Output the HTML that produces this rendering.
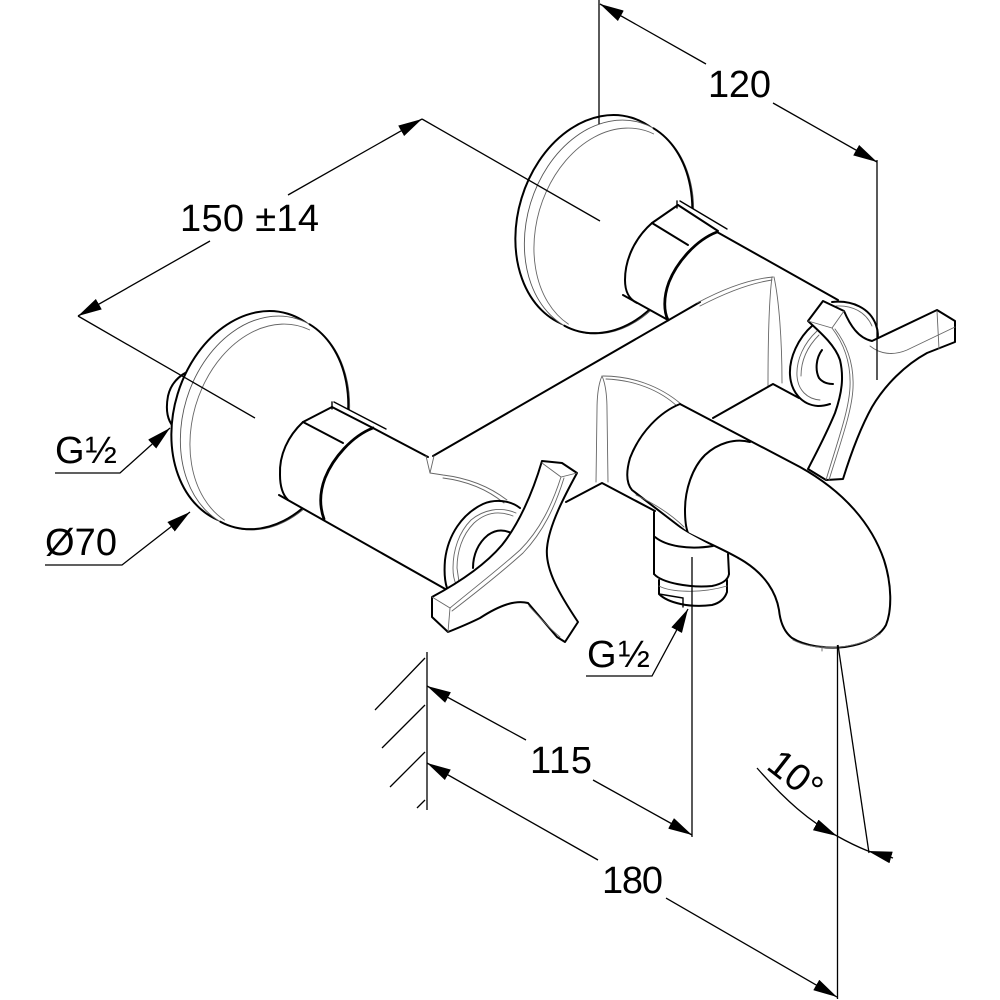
<!DOCTYPE html>
<html><head><meta charset="utf-8"><style>
html,body{margin:0;padding:0;background:#fff;}
svg{display:block;}
text{font-family:"Liberation Sans",Arial,sans-serif;font-size:38px;fill:#000;}
.k{fill:none;stroke:#000;stroke-width:2;stroke-linecap:round;stroke-linejoin:round;}
.kk{fill:none;stroke:#000;stroke-width:2.8;stroke-linecap:round;stroke-linejoin:round;}
.m{fill:none;stroke:#000;stroke-width:1.4;stroke-linecap:round;}
.t{fill:none;stroke:#666;stroke-width:0.9;stroke-linecap:round;}
.d{fill:none;stroke:#000;stroke-width:1.3;}
.w{fill:#fff;stroke:none;}
.wk{fill:#fff;stroke:#000;stroke-width:2;stroke-linejoin:round;}
</style></head><body>
<svg width="1000" height="1000" viewBox="0 0 1000 1000" xmlns="http://www.w3.org/2000/svg">
<defs>
<marker id="ar" viewBox="0 0 24 12" refX="24" refY="6" markerWidth="24" markerHeight="12" markerUnits="userSpaceOnUse" orient="auto-start-reverse"><path d="M0,0 L24,6 L0,12 Z" fill="#000"/></marker>
<g id="plate">
 <ellipse cx="256" cy="418" rx="82" ry="109" transform="rotate(17 256 418)" fill="#fff" stroke="#000" stroke-width="2"/>
 <ellipse cx="265" cy="423" rx="82" ry="109" transform="rotate(17 265 423)" fill="#fff" stroke="#555" stroke-width="0.9"/>
 <path d="M309.6,324.3 A82 109 17 0 1 220.4,521.7" class="k"/>
 <path d="M309.6,329.9 A78 105 17 0 0 224.4,520.1" class="t"/>
</g>
</defs>

<!-- left stub -->
<path class="k" d="M206,369 C190,366 172,378 168,396 C165,412 168,424 178,431"/>

<!-- plates -->
<use href="#plate"/>
<use href="#plate" transform="translate(344,-196)"/>

<!-- right nut / body -->
<path class="w" d="M652,223 L680,201 L726,229 L838,300 L878,330 L830,405 L668,320 L623,295 C624,265 635,237 652,223 Z"/>
<path class="k" d="M652,223 C636,237 625,258 625,280 C625,292 629,299 637,303"/>
<path class="k" d="M623,295 L668,320"/>
<path class="k" d="M652,223 L688,245"/>
<path class="k" d="M652,223 L678,205"/>
<path class="m" d="M677,201 L677,208"/>
<path class="k" d="M678,205 L718,231"/>
<path class="m" d="M680,201 L727,229"/>
<path class="kk" d="M717,232 C696,240 677,262 669,282 C663,298 664,312 668,320"/>
<path class="k" d="M717,232 L838,300"/>

<!-- bar -->
<path class="k" d="M433,456 L700,302"/>
<path class="t" d="M697,303 C725,288 750,279 773,277"/>
<path class="t" d="M700,306 C727,292 752,283 772,280"/>
<path class="t" d="M772,277 C769,300 768,340 768,386"/>
<path class="t" d="M774,277 C779,300 782,340 782,383"/>
<path class="k" d="M713,418 L773,384 L799,398"/>
<path class="t" d="M602,376 C598,385 597,398 597,410 L596,482"/>
<path class="t" d="M602,376 C606,385 607,398 607,410 L608,482"/>
<path class="t" d="M603,376 C632,376 660,386 681,404"/>
<path class="t" d="M606,379 C634,380 660,390 678,407"/>
<path class="k" d="M566,502 L602,483 L655,511"/>

<!-- left nut / body -->
<path class="w" d="M303,422 L333,402 L386,429 L430,456 L430,473 L507,500 L520,508 L447,590 L279,495 C279,470 288,436 303,422 Z"/>
<path class="k" d="M303,422 C288,436 279,455 280,475 C280,487 283,495 288,500"/>
<path class="k" d="M279,495 L447,590"/>
<path class="k" d="M303,422 L343,443"/>
<path class="k" d="M303,422 L332,407"/>
<path class="m" d="M332,402 L332,409"/>
<path class="k" d="M332,407 L373,428"/>
<path class="m" d="M334,402 L386,429"/>
<path class="kk" d="M373,428 C352,436 333,458 325,478 C319,494 320,508 324,519"/>
<path class="k" d="M373,428 L428,457"/>
<path class="t" d="M426,456 L430,473 L434,456"/>
<path class="t" d="M430,473 L443,475 C468,478 490,487 507,500"/>
<path class="t" d="M443,478 C467,481 488,490 504,503"/>

<!-- left ring -->
<path class="k" d="M520,508 C510,500 495,499 483,504 C462,514 448,535 445,560 C444,572 445,582 447,588"/>
<path class="t" d="M516,513 C500,506 483,510 471,520 C459,532 453,550 453,568 C453,575 454,580 456,584"/>
<path class="t" d="M513,516 C498,510 485,513 474,523 C462,535 457,552 457,568 L459,582"/>
<path class="k" d="M473,568 C473,555 478,543 488,535 C495,530 503,529 511,533"/>

<!-- left handle -->
<path class="wk" d="M542,461 L562,463 L577,473 C565,495 549,525 547,548 C545,570 560,595 578,622 L565,642 L557,637 L528,603 C515,600 500,605 480,618 C468,624 458,628 448,632 L432,617 L432,597 C460,582 485,565 502,545 C518,525 532,495 542,461 Z"/>
<path class="t" d="M542,463 L561,477 L577,473"/>
<path class="t" d="M561,477 C552,505 540,530 520,550 C500,568 478,585 450,608"/>
<path class="t" d="M564,478 C555,507 543,532 523,553 C503,571 482,588 452,611"/>
<path class="t" d="M432,597 L450,608 L448,632"/>
<path class="t" d="M529,606 C538,616 548,627 560,637"/>

<!-- spout -->
<path class="wk" d="M680,404 L800,467 C845,492 872,525 884,560 C892,585 892,610 886,625 C880,636 866,644 845,647 C825,649 805,646 792,638 C783,631 780,620 779,610 C776,592 765,575 745,562 C728,551 705,542 688,533 L632,490 C626,483 626,472 630,458 C640,432 660,412 680,404 Z"/>
<path class="k" d="M750,442 C735,438 718,443 705,455 C692,468 685,490 685,510 C685,520 686,528 688,533"/>
<path class="t" d="M636,495 C655,504 672,515 684,527"/>
<path class="t" d="M793,640 C812,650 850,652 880,634"/>
<path class="t" d="M822,646 L822,651"/>

<!-- fitting -->
<path class="w" d="M654,512 L688,533 L730,556 L729,574 L727,595 C720,605 690,610 659,596 L654,574 Z"/>
<path class="k" d="M654,512 L654,574"/>
<path class="k" d="M655,537 C666,546 688,550 713,546"/>
<path class="k" d="M728,554 L729,574"/>
<path class="k" d="M654,574 C662,583 690,588 712,586 C722,584 728,580 729,574"/>
<path class="k" d="M659,580 L659,594 C668,603 690,608 712,605 C720,603 725,598 727,592 L727,580"/>
<path class="t" d="M659,586 C670,592 700,594 727,586"/>
<path class="m" d="M659,594 L683,598 L683,607"/>

<!-- right ring -->
<path class="k" d="M813,325 C798,338 789,358 790,375 C791,392 802,405 818,406 C823,406 827,405 830,404"/>
<path class="t" d="M817,331 C804,343 796,360 797,376 C798,390 807,399 820,400"/>
<path class="t" d="M819,335 C807,347 801,361 801,376"/>
<path class="k" d="M822,350 C816,358 815,370 819,378 C823,383 828,384 833,384"/>
<path class="k" d="M832,302 C852,300 870,308 876,325 C879,333 878,340 877,345"/>
<path class="t" d="M836,306 C852,305 866,312 872,326"/>

<!-- right handle -->
<path class="wk" d="M808,321 L823,301 L844,311 C850,325 858,338 872,341 L937,310 L955,321 L955,342 L927,353 C905,365 885,385 872,407 C862,425 852,450 843,479 L826,480 L808,469 C815,455 825,437 835,413 C842,393 844,377 840,360 C835,345 820,332 808,321 Z"/>
<path class="t" d="M808,321 L832,328 L844,311"/>
<path class="t" d="M832,328 C845,345 851,365 850,387 C849,410 838,440 826,480"/>
<path class="t" d="M835,329 C848,346 854,366 853,388 C852,411 841,441 829,480"/>
<path class="t" d="M870,346 C880,354 893,356 907,350 L955,327"/>
<path class="t" d="M937,311 L939,349"/>

<!-- dimension: 120 -->
<path class="d" d="M599,0 L599,124"/>
<path class="d" d="M877,160 L877,380"/>
<path class="d" d="M600,4 L706,64" marker-start="url(#ar)"/>
<path class="d" d="M877,162 L773,103" marker-start="url(#ar)"/>
<text x="708" y="97" textLength="63">120</text>

<!-- dimension: 150 ±14 -->
<path class="d" d="M78,316 L210,241" marker-start="url(#ar)"/>
<path class="d" d="M422,119 L288,195" marker-start="url(#ar)"/>
<path class="d" d="M78,316 L255,418"/>
<path class="d" d="M422,119 L600,221"/>
<text x="180" y="231" textLength="139">150 ±14</text>

<!-- G1/2 top, Ø70 -->
<path class="d" d="M55,473 L120,473 L170,428" marker-end="url(#ar)"/>
<text x="55" y="463" textLength="62">G½</text>
<path class="d" d="M45,565 L122,565 L190,512" marker-end="url(#ar)"/>
<text x="45" y="555" textLength="72">Ø70</text>

<!-- G1/2 bottom -->
<path class="d" d="M586,676 L652,676 L688,609" marker-end="url(#ar)"/>
<text x="587" y="667" textLength="63">G½</text>
<path class="d" d="M692,557 L692,837"/>

<!-- wall -->
<path class="d" d="M427,652 L427,810"/>
<path class="d" d="M425,658 L375,710 M425,705 L382,748 M425,752 L390,787 M425,800 L417,808"/>

<!-- 115 -->
<path class="d" d="M427,686 L526,740" marker-start="url(#ar)"/>
<path class="d" d="M692,835 L593,780" marker-start="url(#ar)"/>
<text x="530" y="773" textLength="62">115</text>

<!-- 180 -->
<path class="d" d="M837.5,645 L837.5,999"/>
<path class="d" d="M427,763 L598,860" marker-start="url(#ar)"/>
<path class="d" d="M837,997 L666,898" marker-start="url(#ar)"/>
<text x="602" y="893" textLength="61">180</text>

<!-- 10° -->
<path class="d" d="M838,645 L869,853"/>
<path class="d" d="M757,768 C785,800 810,822 837,836" marker-end="url(#ar)"/>
<path class="d" d="M837,836 Q853,845 868,851"/>
<path class="d" d="M868,851 L893,858" marker-start="url(#ar)"/>
<text transform="translate(765,768) rotate(38)" x="0" y="0">10°</text>
</svg>
</body></html>
